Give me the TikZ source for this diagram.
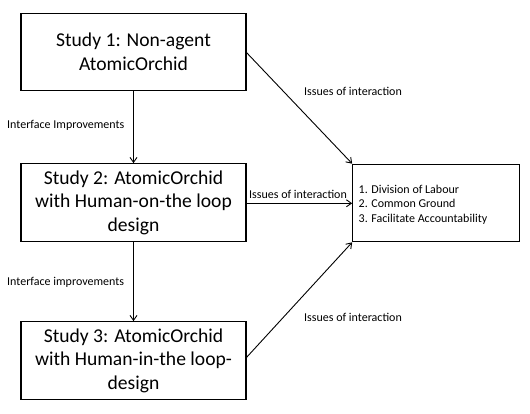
\documentclass[tikz,border=0pt]{standalone}
\usepackage{fontspec}
\setmainfont{Carlito}
\usetikzlibrary{arrows.meta}
\begin{document}
\begin{tikzpicture}[x=1pt,y=-1pt,
  studybox/.style={draw,line width=1.2pt,minimum width=225pt,minimum height=77.5pt,align=center,font=\fontsize{19.6}{23.5}\selectfont,inner sep=0pt},
  resbox/.style={draw,line width=1.2pt,minimum width=166.5pt,minimum height=77.5pt,inner sep=0pt},
  conn/.style={line width=0.9pt,-{Straight Barb[length=5pt,width=7pt]}},
  lbl/.style={font=\fontsize{12}{14}\selectfont,inner sep=0pt}]
\useasboundingbox (0,0) rectangle (530,414);
\node[studybox] (s1) at (133.5,52) {Study 1: Non-agent\\AtomicOrchid};
\node[studybox] (s2) at (133.5,202.5) {Study 2: AtomicOrchid\\with Human-on-the loop\\design};
\node[studybox] (s3) at (133.5,360.5) {Study 3: AtomicOrchid\\with Human-in-the loop-\\design};
\node[resbox] (r) at (436,203) {};
\node[anchor=west,align=left,font=\fontsize{12}{14.5}\selectfont,inner sep=0pt] (rt) at (358.5,204.5) {1. Division of Labour\\2. Common Ground\\3. Facilitate Accountability};
\coordinate (s1e) at (246,52);
\coordinate (s2e) at (246,203.3);
\coordinate (s3e) at (246,358);
\draw[conn] (s1.south) -- (s2.north);
\draw[conn] (s2.south) -- (s3.north);
\draw[conn] (s1e) -- (r.north west);
\draw[conn] (s2e) -- (s2e -| r.west);
\draw[conn] (s3e) -- (r.south west);
\node[lbl,anchor=west] (l1) at (7,125) {Interface Improvements};
\node[lbl,anchor=west] (l2) at (7,282) {Interface improvements};
\node[lbl,anchor=west] (l3) at (304,91) {Issues of interaction};
\node[lbl,anchor=west] (l4) at (249,194) {Issues of interaction};
\node[lbl,anchor=west] (l5) at (304,317) {Issues of interaction};
\end{tikzpicture}
\end{document}
